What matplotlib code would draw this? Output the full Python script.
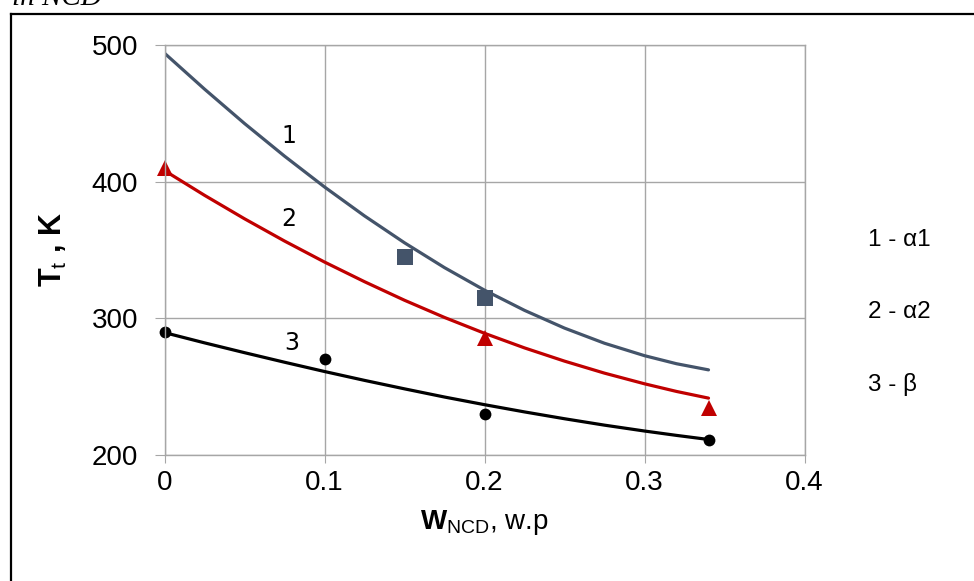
import matplotlib.pyplot as plt
from matplotlib.lines import Line2D

plt.rcParams['font.family'] = ['Liberation Sans', 'DejaVu Sans']
plt.rcParams['mathtext.fontset'] = 'custom'
plt.rcParams['mathtext.rm'] = 'Liberation Sans'
plt.rcParams['mathtext.it'] = 'Liberation Sans:italic'
plt.rcParams['mathtext.bf'] = 'Liberation Sans:bold'

# smooth curves
x_curve = [0, 0.025, 0.05, 0.075, 0.1, 0.125, 0.15, 0.175, 0.2,
           0.225, 0.25, 0.275, 0.3, 0.32, 0.34]
curve_1 = [494, 467.7, 442.5, 418.6, 396, 374.8, 355.1, 336.9, 320.4,
           305.6, 292.6, 281.5, 272.4, 266.5, 262]
curve_2 = [408, 389.9, 372.7, 356.4, 341, 326.6, 313.0, 300.4, 288.8,
           278.1, 268.4, 259.6, 251.8, 246.2, 241.3]
curve_3 = [289.3, 281.8, 274.6, 267.6, 260.8, 254.3, 248.1, 242.1, 236.5,
           231.2, 226.2, 221.5, 217.2, 214.0, 211]

# measured points
x_alpha1 = [0.15, 0.2]
y_alpha1 = [345, 315]
x_alpha2 = [0, 0.2, 0.34]
y_alpha2 = [410, 285, 234]
x_beta = [0, 0.1, 0.2, 0.34]
y_beta = [290, 270, 230, 210.5]

x_ticks = [0, 0.1, 0.2, 0.3, 0.4]
x_tick_labels = ['0', '0.1', '0.2', '0.3', '0.4']
y_ticks = [200, 300, 400, 500]

curve_names = ['1', '2', '3']
curve_name_pos = [(0.0778, 433), (0.0774, 372.5), (0.0798, 281.5)]
legend_lines = ['1 - \u03b11', '2 - \u03b12', '3 - \u03b2']

BLUE = '#44546A'
RED = '#C00000'
GRID = '#A6A6A6'

fig = plt.figure(figsize=(9.74, 5.81), dpi=100)
ax = fig.add_axes([164.5 / 974, 1 - 454.5 / 581, 640 / 974, 409.5 / 581])

ax.plot(x_curve, curve_1, color=BLUE, lw=2.3, solid_capstyle='round')
ax.plot(x_curve, curve_2, color=RED, lw=2.3, solid_capstyle='round')
ax.plot(x_curve, curve_3, color='black', lw=2.3, solid_capstyle='round')

ax.plot(x_alpha1, y_alpha1, 's', color=BLUE, ms=11, mew=0, clip_on=False)
ax.plot(x_alpha2, y_alpha2, '^', color=RED, ms=12, mew=0, clip_on=False)
ax.plot(x_beta, y_beta, 'o', color='black', ms=8.5, mew=0, clip_on=False)

for name, (cx, cy) in zip(curve_names, curve_name_pos):
    ax.text(cx, cy, name, fontsize=17, family='DejaVu Sans',
            ha='center', va='center')

ax.set_xlim(0, 0.4)
ax.set_ylim(200, 500)
ax.set_xticks(x_ticks)
ax.set_xticklabels(x_tick_labels)
ax.set_yticks(y_ticks)
ax.grid(True, color=GRID, lw=1)
for s in ax.spines.values():
    s.set_color(GRID)
    s.set_linewidth(1)
ax.tick_params(axis='x', length=6, color=GRID, labelsize=20, pad=5)
ax.tick_params(axis='y', length=7, color=GRID, labelsize=20, pad=12)

ax.set_xlabel(r'$\mathbf{W}_{\mathrm{NCD}}$, w.p', fontsize=20, labelpad=9)
ax.set_ylabel(r'$\mathbf{T}_{\mathrm{t}}$ , K', fontsize=22,
              fontweight='bold', labelpad=16)

for i, txt in enumerate(legend_lines):
    fig.text(868 / 974, 1 - (240 + 72.5 * i) / 581, txt, fontsize=17.5,
             ha='left', va='center')

# caption fragment cut off at the top and the frame around the chart
fig.text(12 / 974, 1 - 5 / 581, 'in NCD', fontsize=21, style='italic',
         family='Liberation Serif', va='baseline')
fig.add_artist(Line2D([10.5 / 974, 1], [1 - 13.5 / 581] * 2,
                      transform=fig.transFigure, color='black', lw=1.6))
fig.add_artist(Line2D([10.5 / 974] * 2, [0, 1 - 13.5 / 581],
                      transform=fig.transFigure, color='black', lw=1.6))

fig.savefig('out.png', dpi=100)
